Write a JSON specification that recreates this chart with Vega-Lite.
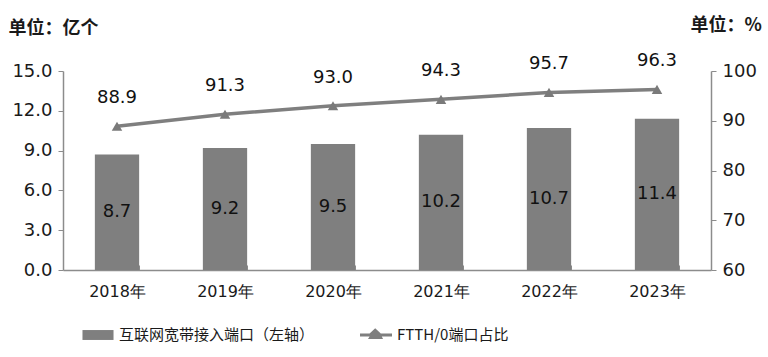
{
  "$schema": "https://vega.github.io/schema/vega-lite/v6.json",
  "width": 648,
  "height": 199,
  "autosize": "none",
  "padding": {"left": 63, "top": 71, "right": 57, "bottom": 87},
  "background": "white",
  "config": {
    "view": {"stroke": null},
    "font": "DejaVu Sans",
    "axis": {"domainColor": "#8c8c8c", "tickColor": "#8c8c8c", "labelColor": "#1a1a1a", "grid": false}
  },
  "data": {
    "values": [
      {"year": "2018年", "ports": 8.7, "ftth": 88.9},
      {"year": "2019年", "ports": 9.2, "ftth": 91.3},
      {"year": "2020年", "ports": 9.5, "ftth": 93.0},
      {"year": "2021年", "ports": 10.2, "ftth": 94.3},
      {"year": "2022年", "ports": 10.7, "ftth": 95.7},
      {"year": "2023年", "ports": 11.4, "ftth": 96.3}
    ]
  },
  "encoding": {
    "x": {
      "field": "year", "type": "nominal", "sort": null,
      "scale": {"type": "band", "paddingInner": 0.59, "paddingOuter": 0.295},
      "axis": {"title": null, "labelAngle": 0, "labelFontSize": 16, "labelPadding": 18, "tickSize": -5, "tickBand": "extent", "domainWidth": 1.5}
    }
  },
  "layer": [
    {
      "mark": {"type": "bar", "color": "#7f7f7f"},
      "encoding": {
        "y": {
          "field": "ports", "type": "quantitative",
          "scale": {"domain": [0, 15], "nice": false},
          "axis": {"orient": "left", "values": [0, 3, 6, 9, 12, 15], "format": ".1f", "labelFontSize": 18, "tickSize": 5, "labelPadding": 6, "domainWidth": 1.5,
            "title": "单位：亿个", "titleAngle": 0, "titleFont": "Noto Sans CJK SC", "titleFontSize": 18, "titleFontWeight": "bold", "titleColor": "#1a1a1a",
            "titleAlign": "left", "titleBaseline": "middle", "titleX": -55, "titleY": -43}
        },
        "color": {
          "datum": "互联网宽带接入端口（左轴）", "type": "nominal",
          "scale": {"domain": ["互联网宽带接入端口（左轴）", "FTTH/0端口占比"], "range": ["#7f7f7f", "#7f7f7f"]},
          "legend": {
            "title": null, "orient": "none", "legendX": 19, "legendY": 248, "direction": "horizontal",
            "labelFont": "Noto Sans CJK SC", "labelFontSize": 15, "labelColor": "#1a1a1a", "labelLimit": 0,
            "symbolSize": 1024, "symbolStrokeWidth": 0, "labelOffset": 5, "columnPadding": 45,
            "encode": {
              "symbols": {"update": {
                "shape": {"signal": "datum.value == 'FTTH/0端口占比' ? 'M-1,-0.09H-0.4L-0.05,-0.42L0.3,-0.09H1V0.09H0.36L0.44,0.25H-0.5L-0.4,0.09H-1Z' : 'M-0.97,-0.31H0.97V0.31H-0.97Z'"},
                "fill": {"value": "#7f7f7f"},
                "strokeWidth": {"value": 0}
              }}
            }
          }
        }
      }
    },
    {
      "mark": {"type": "text", "fontSize": 18, "color": "#111", "baseline": "middle"},
      "encoding": {
        "y": {"field": "ports", "type": "quantitative", "scale": {"domain": [0, 30], "nice": false}, "axis": null},
        "text": {"field": "ports", "type": "quantitative", "format": ".1f"}
      }
    },
    {
      "encoding": {
        "y": {
          "field": "ftth", "type": "quantitative",
          "scale": {"domain": [60, 100], "nice": false},
          "axis": {"orient": "right", "values": [60, 70, 80, 90, 100], "labelFontSize": 18, "tickSize": 5, "labelPadding": 6, "domainWidth": 1.5,
            "title": "单位：%", "titleAngle": 0, "titleFont": "Noto Sans CJK SC", "titleFontSize": 18, "titleFontWeight": "bold", "titleColor": "#1a1a1a",
            "titleAlign": "left", "titleBaseline": "middle", "titleX": -21, "titleY": -46}
        }
      },
      "layer": [
        {
          "mark": {"type": "line", "color": "#7a7a7a", "strokeWidth": 3.5},
          "encoding": {"color": {"datum": "FTTH/0端口占比", "type": "nominal"}}
        },
        {
          "mark": {"type": "point", "shape": "triangle-up", "filled": true, "size": 110, "color": "#7a7a7a", "opacity": 1},
          "encoding": {}
        },
        {
          "mark": {"type": "text", "fontSize": 18, "color": "#111", "baseline": "middle", "dy": -28},
          "encoding": {"text": {"field": "ftth", "type": "quantitative", "format": ".1f"}}
        }
      ]
    }
  ],
  "resolve": {"scale": {"y": "independent"}, "axis": {"y": "independent"}}
}
